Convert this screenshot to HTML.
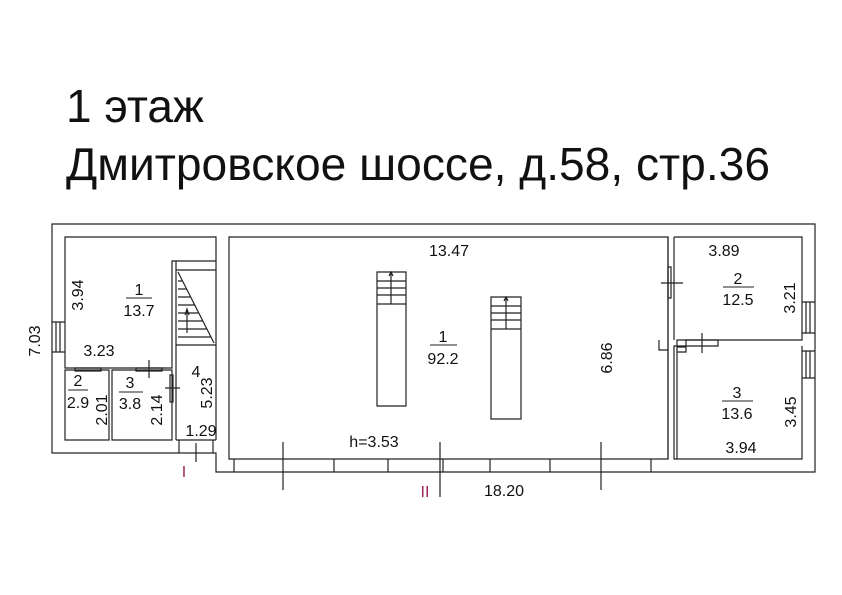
<!DOCTYPE html>
<html><head><meta charset="utf-8"><style>
html,body{margin:0;padding:0;background:#fff;width:842px;height:595px;overflow:hidden}
svg{display:block}
text{font-family:"Liberation Sans",Arial,sans-serif;fill:#111}
</style></head><body>
<svg width="842" height="595" viewBox="0 0 842 595">
<text x="66" y="122" font-size="46">1 этаж</text>
<text x="66" y="180" font-size="46" textLength="704" lengthAdjust="spacingAndGlyphs">Дмитровское шоссе, д.58, стр.36</text>
<g fill="none" stroke="#222" stroke-width="1.2">
<path d="M52 224 H815 V472 H216 V453 H52 Z"/>
<path d="M65 237 H216 V261 H172 V368 H65 Z"/>
<path d="M176 261 V440 M216 261 V440 M176 270 H216 M176 345 H216"/>
<path d="M65 370 H109 V440 H65 Z"/>
<path d="M112 370 H172 V440 H112 Z"/>
<path d="M176 440 H216"/>
<path d="M178 272 L214 343"/>
<path d="M178 281 H182 M178 289 H187 M178 297 H191 M178 305 H195 M178 313 H199 M178 321 H203 M178 329 H207 M178 337 H211"/>
<path d="M187 333 V310 M185 315 L187 309 L189 315"/>
<path d="M52 322 H65 M52 352 H65 M56 322 V352 M60 322 V352"/>
<path d="M75 368 H101 V371 H75 Z"/>
<path d="M136 368 H162 V371 H136 Z M149 360 V378"/>
<path d="M170 375 V402 H173 V375 Z M165 388 H180"/>
<path d="M179 440 V453 M213 440 V453 M196 443 V462"/>
<path d="M229 237 H668 V459 H229 Z"/>
<path d="M234 459 V472 M334 459 V472 M388 459 V472 M443 459 V472 M490 459 V472 M550 459 V472 M651 459 V472"/>
<path d="M283 442 V490 M440 442 V497 M601 442 V490"/>
<path d="M377 272 H406 V406 H377 Z M377 304 H406 M377 281 H406 M377 288 H406 M377 295 H406 M391 272 V304 M389 276 L391 272 L393 276"/>
<path d="M491 297 H521 V419 H491 Z M491 329 H521 M491 306 H521 M491 313 H521 M491 320 H521 M506 297 V329 M504 301 L506 297 L508 301"/>
<path d="M674 237 H802 V340 H677 V459 M802 346 V459 H674 V346 H686"/>
<path d="M668 237 V459 M674 237 V340"/>
<path d="M668 267 V298 H671 V267 Z M661 283 H683"/>
<path d="M686 340 H718 V346 H686 Z M702 333 V353"/>
<path d="M659 340 V350 H668 M677 347 H686 V352 H677"/>
<path d="M802 302 H815 M802 333 H815 M802 351 H815 M802 378 H815 M806 302 V333 M810 302 V333 M806 351 V378 M810 351 V378"/>
</g>
<g stroke="#222" stroke-width="1">
<line x1="126" y1="298" x2="152" y2="298"/>
<line x1="430" y1="345" x2="457" y2="345"/>
<line x1="723" y1="287" x2="754" y2="287"/>
<line x1="722" y1="401" x2="753" y2="401"/>
<line x1="68" y1="390" x2="88" y2="390"/>
<line x1="119" y1="392" x2="143" y2="392"/>
</g>
<g font-size="16" text-anchor="middle">
<text x="139" y="295">1</text><text x="139" y="316">13.7</text>
<text x="443" y="342">1</text><text x="443" y="364">92.2</text>
<text x="738" y="284">2</text><text x="738" y="305">12.5</text>
<text x="737" y="398">3</text><text x="737" y="419">13.6</text>
<text x="78" y="386">2</text><text x="78" y="408">2.9</text>
<text x="130" y="388">3</text><text x="130" y="409">3.8</text>
<text x="196" y="377">4</text>
<text x="99" y="356">3.23</text>
<text x="449" y="256">13.47</text>
<text x="724" y="256">3.89</text>
<text x="741" y="453">3.94</text>
<text x="374" y="447">h=3.53</text>
<text x="504" y="496">18.20</text>
<text x="201" y="436">1.29</text>
</g>
<g font-size="16" text-anchor="middle">
<text transform="translate(83,295) rotate(-90)">3.94</text>
<text transform="translate(40,341) rotate(-90)">7.03</text>
<text transform="translate(107,410) rotate(-90)">2.01</text>
<text transform="translate(162,410) rotate(-90)">2.14</text>
<text transform="translate(212,393) rotate(-90)">5.23</text>
<text transform="translate(612,358) rotate(-90)">6.86</text>
<text transform="translate(795,298) rotate(-90)">3.21</text>
<text transform="translate(796,412) rotate(-90)">3.45</text>
</g>
<g font-size="16" text-anchor="middle">
<text x="184" y="477" style="fill:#a0205a">I</text>
<text x="425" y="497" style="fill:#a0205a">II</text>
</g>
</svg>
</body></html>
